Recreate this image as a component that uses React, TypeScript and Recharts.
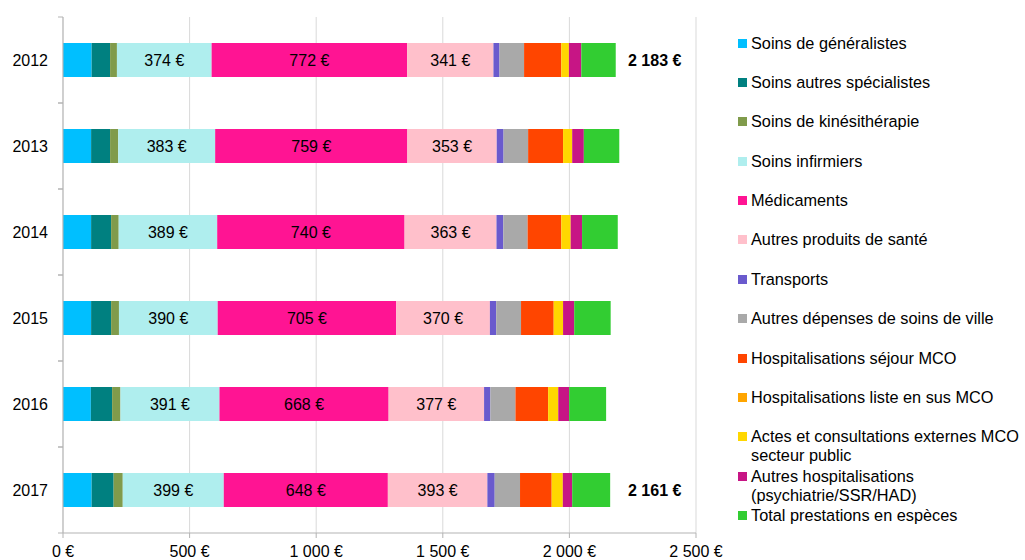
import { Bar, BarChart, CartesianGrid, LabelList, XAxis, YAxis } from "recharts";

const years = ["2012", "2013", "2014", "2015", "2016", "2017"];
const generalistes = [113, 111, 111, 111, 110, 113];
const specialistes = [73, 75, 79, 79, 84, 87];
const kine = [27, 32, 30, 31, 33, 36];
const infirmiers = [374, 383, 389, 390, 391, 399];
const medicaments = [772, 759, 740, 705, 668, 648];
const autresProduits = [341, 353, 363, 370, 377, 393];
const transports = [24, 27, 27, 25, 25, 29];
const autresDepenses = [97, 97, 96, 98, 99, 100];
const hospSejour = [147, 138, 133, 129, 129, 125];
const hospListe = [0, 0, 0, 0, 0, 0];
const actesExternes = [30, 36, 37, 37, 40, 44];
const autresHosp = [49, 46, 45, 44, 43, 37];
const especes = [136, 140, 141, 144, 146, 150];
const totalLabels = [2183, null, null, null, null, 2161];
const xTicks = [0, 500, 1000, 1500, 2000, 2500];

const series = [
  { key: "gen", name: "Soins de généralistes", color: "#00BFFF", values: generalistes },
  { key: "spe", name: "Soins autres spécialistes", color: "#008080", values: specialistes },
  { key: "kine", name: "Soins de kinésithérapie", color: "#809B4B", values: kine },
  { key: "inf", name: "Soins infirmiers", color: "#AFEEEE", values: infirmiers, label: true },
  { key: "med", name: "Médicaments", color: "#FF1493", values: medicaments, label: true },
  { key: "aps", name: "Autres produits de santé", color: "#FFC0CB", values: autresProduits, label: true },
  { key: "tra", name: "Transports", color: "#6A5ACD", values: transports },
  { key: "adv", name: "Autres dépenses de soins de ville", color: "#A9A9A9", values: autresDepenses },
  { key: "hsm", name: "Hospitalisations séjour MCO", color: "#FF4500", values: hospSejour },
  { key: "hls", name: "Hospitalisations liste en sus MCO", color: "#FFA500", values: hospListe },
  { key: "ace", name: "Actes et consultations externes MCO\nsecteur public", color: "#FFD700", values: actesExternes },
  { key: "aho", name: "Autres hospitalisations\n(psychiatrie/SSR/HAD)", color: "#C71585", values: autresHosp },
  { key: "esp", name: "Total prestations en espèces", color: "#32CD32", values: especes },
];

const data = years.map((year, i) => {
  const row: Record<string, string | number | null> = { year, total: totalLabels[i] };
  series.forEach((s) => (row[s.key] = s.values[i]));
  return row;
});

const FONT = '"Liberation Sans", Arial, sans-serif';
const BAND = 86;

const euro = (v: number) => `${String(v).replace(/\B(?=(\d{3})+(?!\d))/g, " ")} €`;

function YearTick({ x, y, payload }: any) {
  return (
    <g>
      <text x={x} y={y} dy="0.35em" textAnchor="end" fontSize={16} fill="#000">
        {payload.value}
      </text>
      <line x1={x + 10} x2={x + 15} y1={y - BAND / 2} y2={y - BAND / 2} stroke="#b3b3b3" />
      <line x1={x + 10} x2={x + 15} y1={y + BAND / 2} y2={y + BAND / 2} stroke="#b3b3b3" />
    </g>
  );
}

function TotalLabel(props: any) {
  const { y, height, index } = props;
  const v = totalLabels[index];
  if (v == null) return null;
  return (
    <text x={628} y={y + height / 2} dy="0.35em" fontSize={16} fontWeight="bold" fill="#000">
      {euro(v)}
    </text>
  );
}

function ChartLegend() {
  return (
    <div
      style={{
        position: "absolute",
        left: 738,
        top: 33.5,
        width: 287,
        fontFamily: FONT,
        fontSize: 16.3,
        whiteSpace: "nowrap",
      }}
    >
      {series.map((s) => (
        <div key={s.key} style={{ height: 39.4, display: "flex", alignItems: "flex-start" }}>
          <span
            style={{ width: 9, height: 9, background: s.color, marginTop: 5, marginRight: 4, flex: "none" }}
          />
          <span style={{ lineHeight: "19px", whiteSpace: "pre", color: "#000" }}>{s.name}</span>
        </div>
      ))}
    </div>
  );
}

export default function App() {
  return (
    <div style={{ position: "fixed", left: 0, top: 0, width: 1025, height: 560, background: "#fff" }}>
      <BarChart
        width={1025}
        height={560}
        data={data}
        layout="vertical"
        barSize={34}
        margin={{ top: 17, right: 329, left: 0, bottom: 0 }}
        style={{ fontFamily: FONT }}
      >
        <CartesianGrid horizontal={false} stroke="#d9d9d9" />
        <XAxis
          type="number"
          domain={[0, 2500]}
          ticks={xTicks}
          tickFormatter={euro}
          height={27}
          tickSize={5}
          tickMargin={8}
          stroke="#b3b3b3"
          tick={{ fontSize: 16, fill: "#000" }}
        />
        <YAxis
          type="category"
          dataKey="year"
          width={63}
          tickSize={0}
          tickMargin={15}
          stroke="#b3b3b3"
          tick={<YearTick />}
        />
        {series.map((s) => (
          <Bar key={s.key} dataKey={s.key} name={s.name} stackId="a" fill={s.color} isAnimationActive={false}>
            {s.label && (
              <LabelList
                dataKey={s.key}
                position="center"
                formatter={(v: any) => euro(v)}
                fontSize={16}
                fill="#000"
              />
            )}
            {s.key === "esp" && <LabelList dataKey="total" content={<TotalLabel />} />}
          </Bar>
        ))}
      </BarChart>
      <ChartLegend />
    </div>
  );
}
